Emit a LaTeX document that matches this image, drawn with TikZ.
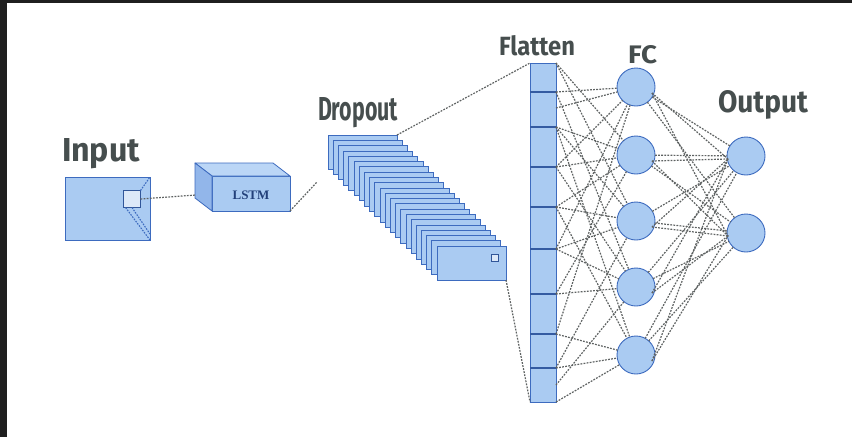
\documentclass[tikz,border=0pt]{standalone}
\usepackage{fontspec}
\newfontfamily\handfont{Fira Sans}
\newfontfamily\boxfont{Liberation Serif}
\usetikzlibrary{calc}

\definecolor{frameclr}{HTML}{1F1F1F}
\definecolor{cellfill}{HTML}{AACBF2}
\definecolor{celltop}{HTML}{BBD6F6}
\definecolor{cellside}{HTML}{92B6EA}
\definecolor{celledge}{HTML}{3D6BBF}
\definecolor{patchfill}{HTML}{DCE8F8}
\definecolor{wireclr}{HTML}{5E6262}
\definecolor{inkclr}{HTML}{464E4E}
\definecolor{lstmtext}{HTML}{22407A}

\tikzset{
  cell/.style={draw=celledge, fill=cellfill, line width=0.8pt, inner sep=0pt, outer sep=0pt},
  patch/.style={draw=celledge!80!black, fill=patchfill, line width=0.8pt, inner sep=0pt, outer sep=0pt},
  neuron/.style={circle, draw=celledge, fill=cellfill, line width=0.9pt, minimum size=38pt, inner sep=0pt, outer sep=0pt},
  wire/.style={draw=wireclr, line width=1.2pt, dash pattern=on 1.8pt off 1.3pt},
  bluewire/.style={draw=celledge, line width=1.1pt, dash pattern=on 1.6pt off 1.2pt},
  divider/.style={draw=celledge!85!black, line width=1.1pt},
  hand/.style={text=inkclr, inner sep=0pt, outer sep=0pt, anchor=base west, font=\handfont\bfseries}
}

\begin{document}
\begin{tikzpicture}[x=1pt, y=-1pt]
\useasboundingbox (0,0) rectangle (852,437);
% dark frame on top and left edges
\fill[frameclr] (0,0) rectangle (852,437);
\fill[white] (7,3) rectangle (852,437);

% ---- labels ----
\node[hand] (lblin)   at (62,161)  {\resizebox{78pt}{23pt}{Input}};
\node[hand] (lbldrop) at (318,120) {\resizebox{80pt}{23pt}{Dropout}};
\node[hand] (lblflat) at (499,55)  {\resizebox{76pt}{20pt}{Flatten}};
\node[hand] (lblfc)   at (628,63)  {\resizebox{29pt}{18pt}{FC}};
\node[hand] (lblout)  at (718,112) {\resizebox{90pt}{22pt}{Output}};

% ---- input map ----
\node[cell, minimum width=85pt, minimum height=63pt, anchor=north west] (inp) at (65,177) {};
\node[patch, minimum size=17pt] (patch) at (132,199) {};
\draw[bluewire] (patch.north east) -- (inp.north east);
\draw[bluewire] ($(patch.south west)+(2,0)$) -- (inp.south east);
\draw[bluewire] (patch.south) -- ($(inp.south east)+(0,-6)$);

% ---- LSTM block ----
\node[cell, minimum width=78pt, minimum height=35pt] (lstm) at (251,193.5) {};
\filldraw[fill=celltop, draw=celledge, line width=0.8pt, line join=round]
  (lstm.north west) -- ++(-17,-13) -- ($(lstm.north east)+(-17,-13)$) -- (lstm.north east) -- cycle;
\filldraw[fill=cellside, draw=celledge, line width=0.8pt, line join=round]
  (lstm.north west) -- ++(-17,-13) -- ($(lstm.south west)+(-17,-13)$) -- (lstm.south west) -- cycle;
\node[text=lstmtext, font=\boxfont\bfseries\fontsize{13}{14}\selectfont] (lstmtxt) at (251,195) {LSTM};
\coordinate (lstmin) at (196,195);
\draw[wire] (patch.east) -- (lstmin);

% ---- dropout stack ----
\foreach \i in {0,...,21} {
  \pgfmathsetmacro{\sx}{328+\i*109/21}
  \pgfmathsetmacro{\sy}{135+\i*111/21}
  \node[cell, minimum width=69pt, minimum height=34pt, anchor=north west, line width=0.7pt] (d\i) at (\sx,\sy) {};
}
\node[patch, minimum size=7pt, line width=0.7pt] (dpatch) at (495,258) {};
\coordinate (dropin) at (317,182);
\draw[wire] (lstm.south east) -- (dropin);

% ---- flatten column ----
\node[cell, minimum width=26pt, minimum height=339pt, anchor=north west] (flat) at (530,63) {};
\foreach \y in {92,127,167,207,249,294,334,368}
  \draw[divider] (530,\y) -- (556,\y);
\draw[wire] (d0.north east) -- (flat.north west);
\draw[wire] (d21.south east) -- (flat.south west);

% ---- fully connected layer ----
\foreach \n/\y in {1/87,2/155,3/221,4/287,5/355}
  \node[neuron] (fc\n) at (636,\y) {};
\foreach \n/\y in {1/156,2/233}
  \node[neuron] (out\n) at (746,\y) {};

% tap points on the flatten column
\foreach \k/\y in {1/63,2/92,3/108,4/127,5/167,6/207,7/249,8/294,9/334,10/368,11/385,12/402}
  \coordinate (src\k) at (556,\y);

% flatten -> FC wiring
\foreach \n/\list in {1/{2,3,5,7,9}, 2/{1,4,5,6,8}, 3/{1,4,6,7,10}, 4/{2,5,7,8,11}, 5/{4,6,9,10,12}}
  \foreach \k in \list
    \draw[wire] (src\k) -- (fc\n);

% FC -> output wiring
\foreach \n in {1,...,5}
  \foreach \m in {1,2} {
    \draw[wire] (fc\n) -- (out\m);
    \draw[wire] ($(fc\n.east)+(-3,6)$) -- ($(out\m.west)+(1,3)$);
  }
\end{tikzpicture}
\end{document}
